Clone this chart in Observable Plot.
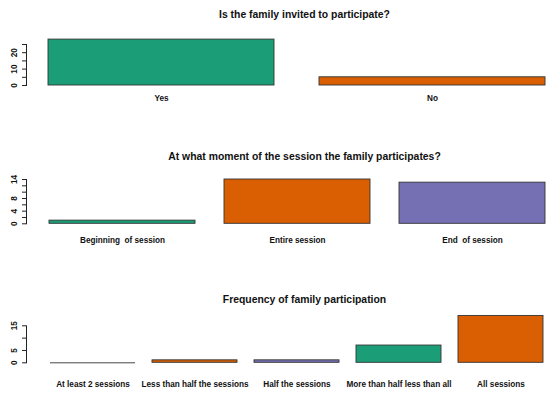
<!DOCTYPE html>
<html>
<head>
<meta charset="utf-8">
<script src="https://cdn.jsdelivr.net/npm/d3@7"></script>
<script src="https://cdn.jsdelivr.net/npm/@observablehq/plot@0.6"></script>
<style>
  html, body { margin: 0; padding: 0; background: #fff; }
  #chart { width: 550px; height: 395px; }
  #chart svg { display: block; white-space: pre; }
</style>
</head>
<body>
<div id="chart"></div>
<script>
// ---- data ----
const palette = ["#1B9E77", "#D95F02", "#7570B3"];

const title1 = "Is the family invited to participate?";
const cats1 = ["Yes", "No"];
const vals1 = [28, 5];
const ticks1 = [0, 5, 10, 15, 20, 25];
const tickLabels1 = [0, 10, 20];

const title2 = "At what moment of the session the family participates?";
const cats2 = ["Beginning  of session", "Entire session", "End  of session"];
const vals2 = [1, 14, 13];
const ticks2 = [0, 2, 4, 6, 8, 10, 12, 14];
const tickLabels2 = [0, 4, 8, 14];

const title3 = "Frequency of family participation";
const cats3 = ["At least 2 sessions", "Less than half the sessions", "Half the sessions", "More than half less than all", "All sessions"];
const vals3 = [0, 1, 1, 7, 19];
const ticks3 = [0, 5, 10, 15];
const tickLabels3 = [0, 5, 15];

const FONT = "'Liberation Sans', Arial, Helvetica, sans-serif";

function panel({title, cats, vals, ticks, tickLabels, height, marginTop, marginBottom, titleDy, labelDy}) {
  const data = cats.map((c, i) => ({cat: c, value: vals[i], color: palette[i % palette.length]}));
  return Plot.plot({
    width: 550,
    height,
    marginLeft: 26,
    marginRight: 0,
    marginTop,
    marginBottom,
    style: {fontFamily: FONT, background: "#fff", overflow: "visible"},
    x: {type: "band", domain: cats, range: [48, 545], paddingInner: 0.2 / 1.2, paddingOuter: 0, axis: null},
    y: {domain: [0, ticks[ticks.length - 1]], axis: null},
    color: {type: "identity"},
    marks: [
      Plot.barY(data, {x: "cat", y: "value", fill: "color", stroke: "#333", strokeWidth: 0.9}),
      // zero-height bars are drawn by R as a flat outline
      Plot.tickY(data.filter(d => d.value === 0), {x: "cat", y: "value", stroke: "#333", strokeWidth: 0.9}),
      Plot.frame({anchor: "left", stroke: "#222"}),
      Plot.axisY({ticks, tickSize: 4, tickFormat: () => "", label: null, stroke: "#222"}),
      Plot.text(tickLabels, {y: d => d, text: d => String(d), frameAnchor: "left", dx: -12.5,
        rotate: -90, textAnchor: "middle", lineAnchor: "middle", fontSize: 8.2, fontWeight: "bold", fill: "#111"}),
      Plot.text(cats, {x: d => d, text: d => d, frameAnchor: "bottom", dy: labelDy,
        lineAnchor: "middle", textAnchor: "middle", fontSize: 8.2, fontWeight: "bold", fill: "#111"}),
      Plot.text([title], {text: d => d, frameAnchor: "top", dx: 16, dy: titleDy,
        lineAnchor: "middle", textAnchor: "middle", fontSize: 10.4, fontWeight: "bold", fill: "#111"})
    ]
  });
}

const chart = document.getElementById("chart");
chart.append(panel({title: title1, cats: cats1, vals: vals1, ticks: ticks1, tickLabels: tickLabels1,
  height: 132, marginTop: 44, marginBottom: 47, titleDy: -30, labelDy: 12.5}));
chart.append(panel({title: title2, cats: cats2, vals: vals2, ticks: ticks2, tickLabels: tickLabels2,
  height: 132, marginTop: 47, marginBottom: 40.7, titleDy: -23, labelDy: 16.4}));
chart.append(panel({title: title3, cats: cats3, vals: vals3, ticks: ticks3, tickLabels: tickLabels3,
  height: 131, marginTop: 61.3, marginBottom: 32.7, titleDy: -26.3, labelDy: 21.2}));
</script>
</body>
</html>
